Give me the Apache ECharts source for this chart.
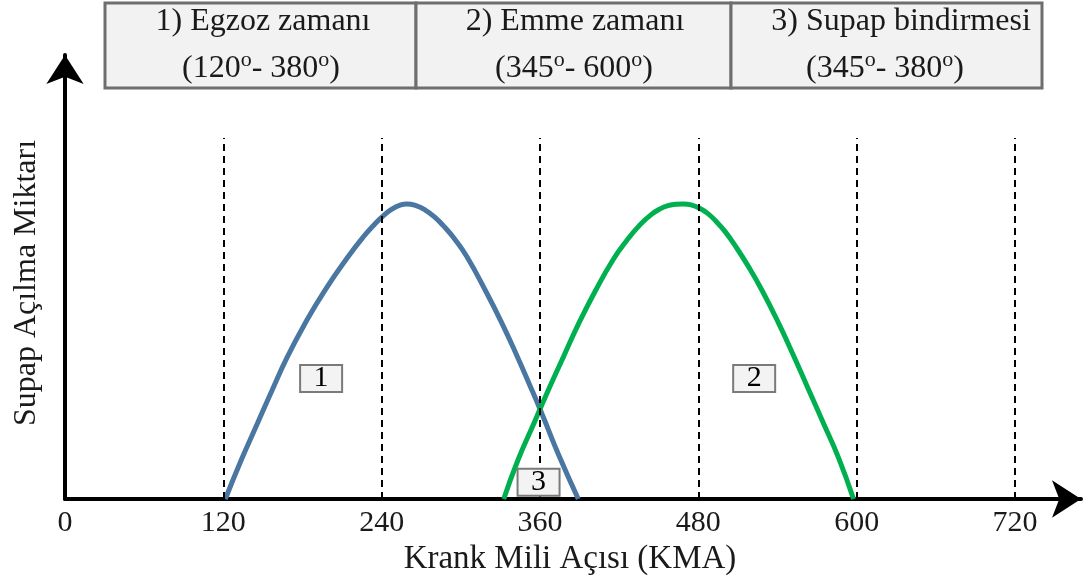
<!DOCTYPE html>
<html>
<head>
<meta charset="utf-8">
<script src="https://cdn.jsdelivr.net/npm/echarts@6/dist/echarts.min.js"></script>
<style>
  html, body { margin: 0; padding: 0; background: #fff; }
  #chart { width: 1084px; height: 581px; }
</style>
</head>
<body>
<div id="chart"></div>
<script>
// Crank angle (deg) and valve lift (relative units) for the exhaust valve
const exhaustValve = [
  [121.5, 0], [133.9, 1.35], [145.3, 2.50], [156.7, 3.65], [168.5, 4.80],
  [181.9, 5.93], [197.1, 7.06], [214.8, 8.20], [226.0, 8.85], [235.0, 9.30],
  [242.0, 9.60], [248.0, 9.80], [253.5, 9.92], [259.0, 9.97], [266.0, 9.91],
  [273.0, 9.76], [280.0, 9.53], [287.0, 9.22], [295.0, 8.80], [304.5, 8.19],
  [319.7, 6.95], [331.0, 5.95], [342.4, 4.85], [352.5, 3.82], [362.0, 2.82],
  [374.0, 1.50], [389.0, 0]
];
// Crank angle (deg) and valve lift (relative units) for the intake valve
const intakeValve = [
  [332.5, 0], [343.6, 1.35], [356.0, 2.62], [366.5, 3.70], [377.7, 4.80],
  [389.0, 5.90], [401.8, 7.02], [415.6, 8.10], [426.0, 8.75], [435.9, 9.27],
  [444.0, 9.60], [451.0, 9.80], [457.0, 9.91], [463.0, 9.96], [468.7, 9.97],
  [475.0, 9.93], [481.0, 9.82], [487.0, 9.65], [493.0, 9.40], [500.0, 9.05],
  [508.0, 8.55], [518.0, 7.85], [528.1, 7.06], [540.7, 5.95], [552.1, 4.85],
  [563.5, 3.70], [574.8, 2.56], [586.2, 1.40], [597.6, 0]
];
// Numbered tags placed on the plot: [crank angle, lift, text]
const phaseTags = [
  [194.1, 4.07, '1'],
  [522.3, 4.07, '2'],
  [358.9, 0.57, '3']
];
// Crank angle tick labels and dashed reference lines
const xTicks = [0, 120, 240, 360, 480, 600, 720];
const dashXs = [120, 240, 360, 480, 600, 720];
const dashTop = 12.2;
// Header table: title line and angle range for each phase
const headerTitles = ['1) Egzoz zamanı', '2) Emme zamanı', '3) Supap bindirmesi'];
const headerRanges = [['120', '380'], ['345', '600'], ['345', '380']];

const FONT = '"Liberation Serif", "Times New Roman", serif';
const TXT = '#1a1a1a';

const chart = echarts.init(document.getElementById('chart'), null, { renderer: 'canvas' });

// Header table cells
const cellEdges = [105, 416, 731, 1042];
const titleCenters = [263, 575, 901];
const rangeCenters = [261, 574, 885];
const graphics = [];
for (let i = 0; i < 3; i++) {
  graphics.push({
    type: 'rect', z: 10,
    shape: { x: cellEdges[i], y: 3, width: cellEdges[i + 1] - cellEdges[i], height: 85 },
    style: { fill: '#f2f2f2', stroke: '#6e6e6e', lineWidth: 3 }
  });
}
for (let i = 0; i < 3; i++) {
  graphics.push({
    type: 'text', z: 11, x: titleCenters[i], y: 22,
    style: {
      text: headerTitles[i], font: '32px ' + FONT, fill: TXT,
      align: 'center', verticalAlign: 'middle'
    }
  });
  const r = headerRanges[i];
  graphics.push({
    type: 'text', z: 11, x: rangeCenters[i], y: 67,
    style: {
      text: '{a|(' + r[0] + '}{s|o}{a|- ' + r[1] + '}{s|o}{a|)}',
      align: 'center', verticalAlign: 'middle',
      rich: {
        a: { font: '32px ' + FONT, fill: TXT, lineHeight: 36, verticalAlign: 'bottom' },
        s: { font: '22px ' + FONT, fill: TXT, lineHeight: 36, verticalAlign: 'top' }
      }
    }
  });
}

const option = {
  animation: false,
  backgroundColor: '#ffffff',
  grid: { left: 65, right: 3, top: 55, bottom: 82, containLabel: false },
  xAxis: {
    type: 'value', min: 0, max: 770, interval: 120,
    name: 'Krank Mili Açısı (KMA)', nameLocation: 'middle', nameGap: 43,
    nameTextStyle: { fontFamily: FONT, fontSize: 33, color: TXT, padding: [0, 6, 0, 0] },
    axisLine: {
      show: true, symbol: ['none', 'arrow'], symbolSize: [28, 29],
      lineStyle: { color: '#000', width: 4 }
    },
    axisTick: { show: false },
    splitLine: { show: false },
    axisLabel: {
      customValues: xTicks, margin: 9,
      fontFamily: FONT, fontSize: 30, color: TXT
    }
  },
  yAxis: {
    type: 'value', min: 0, max: 15,
    name: 'Supap Açılma Miktarı', nameLocation: 'middle', nameGap: 22,
    nameTextStyle: { fontFamily: FONT, fontSize: 32, color: TXT, padding: [0, 12, 0, 0] },
    axisLine: {
      show: true, symbol: ['none', 'arrow'], symbolSize: [28, 29],
      lineStyle: { color: '#000', width: 4 }
    },
    axisTick: { show: false },
    splitLine: { show: false },
    axisLabel: { show: false }
  },
  graphic: graphics,
  series: [
    {
      name: 'Egzoz', type: 'line', data: exhaustValve, smooth: 0.5,
      showSymbol: false, z: 3,
      lineStyle: { color: '#4a77a2', width: 5 },
      markLine: {
        silent: true, symbol: ['none', 'none'], label: { show: false },
        lineStyle: { color: '#000', width: 2, type: [7, 5] },
        data: dashXs.map(x => [{ coord: [x, 0] }, { coord: [x, dashTop] }])
      }
    },
    {
      name: 'Emme', type: 'line', data: intakeValve, smooth: 0.5,
      showSymbol: false, z: 4,
      lineStyle: { color: '#00b050', width: 5 }
    },
    {
      name: 'Etiket', type: 'scatter', data: phaseTags, symbolSize: 0, z: 6,
      itemStyle: { opacity: 1 },
      label: {
        show: true, position: 'inside',
        formatter: p => p.value[2],
        fontFamily: FONT, fontSize: 30, color: '#000', opacity: 1,
        backgroundColor: '#f3f3f3', borderColor: '#7a7a7a', borderWidth: 2,
        width: 40, height: 25, lineHeight: 28, align: 'center', verticalAlign: 'middle'
      }
    }
  ]
};
chart.setOption(option);
</script>
</body>
</html>
